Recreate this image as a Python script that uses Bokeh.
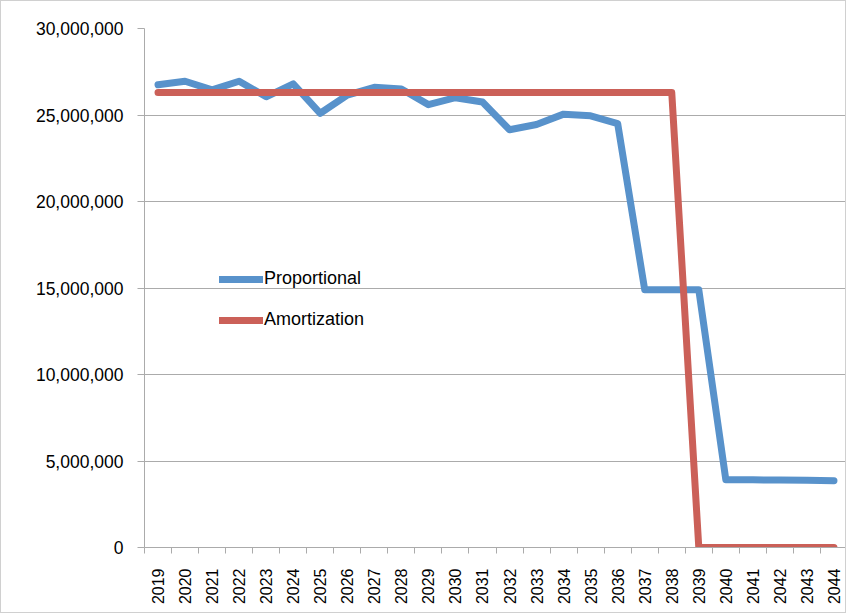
import math
from bokeh.plotting import figure
from bokeh.models import (Range1d, FixedTicker, NumeralTickFormatter, Legend,
                          LegendItem)
from bokeh.embed import file_html
from bokeh.resources import INLINE

# ---- data ----
years = [2019, 2020, 2021, 2022, 2023, 2024, 2025, 2026, 2027, 2028,
         2029, 2030, 2031, 2032, 2033, 2034, 2035, 2036, 2037, 2038,
         2039, 2040, 2041, 2042, 2043, 2044]
proportional = [26750000, 26950000, 26450000, 26950000, 26050000, 26800000,
                25100000, 26150000, 26600000, 26500000, 25600000, 26000000,
                25750000, 24150000, 24450000, 25050000, 24950000, 24500000,
                14900000, 14900000, 14900000, 3920000, 3910000, 3900000,
                3890000, 3860000]
amortization = [26300000] * 20 + [0] * 6
y_ticks = [0, 5000000, 10000000, 15000000, 20000000, 25000000, 30000000]

BLUE = "#5892CB"
RED = "#CB6058"
GRID = "#ababab"
FONT = "Liberation Sans"

p = figure(width=846, height=613, output_backend="svg", toolbar_location=None,
           x_range=Range1d(years[0] - 0.5, years[-1] + 0.5),
           y_range=Range1d(0, 30000000),
           min_border_left=143, min_border_right=0,
           min_border_top=27, min_border_bottom=67)
p.outline_line_color = None
p.background_fill_color = "white"
p.border_fill_color = "white"
p.styles = {"border": "1px solid #d0d0d0", "box-sizing": "border-box"}

r1 = p.line(years, proportional, line_width=7, color=BLUE,
            line_join="round", line_cap="round")
r2 = p.line(years, amortization, line_width=7, color=RED,
            line_join="round", line_cap="round")

# x axis
p.xaxis.ticker = FixedTicker(ticks=years,
                             minor_ticks=[y - 0.5 for y in years] + [years[-1] + 0.5])
p.xaxis.major_tick_line_color = None
p.xaxis.major_tick_out = 0
p.xaxis.major_tick_in = 0
p.xaxis.minor_tick_out = 6
p.xaxis.minor_tick_in = 0
p.xaxis.minor_tick_line_color = GRID
p.xaxis.axis_line_color = GRID
p.xaxis.major_label_orientation = math.pi / 2
p.xaxis.major_label_standoff = 15
p.xaxis.major_label_text_font = FONT
p.xaxis.major_label_text_font_size = "16px"
p.xaxis.major_label_text_color = "#000000"

# y axis
p.yaxis.ticker = FixedTicker(ticks=y_ticks)
p.yaxis.formatter = NumeralTickFormatter(format="0,0")
p.yaxis.major_tick_out = 7
p.yaxis.major_tick_in = 0
p.yaxis.minor_tick_line_color = None
p.yaxis.major_tick_line_color = GRID
p.yaxis.axis_line_color = GRID
p.yaxis.major_label_standoff = 14
p.yaxis.major_label_text_font = FONT
p.yaxis.major_label_text_font_size = "17.5px"
p.yaxis.major_label_text_color = "#000000"

p.xgrid.grid_line_color = None
p.ygrid.grid_line_color = GRID
p.ygrid.grid_line_width = 1

legend = Legend(items=[LegendItem(label="Proportional", renderers=[r1]),
                       LegendItem(label="Amortization", renderers=[r2])],
                location=(75, 217))
legend.glyph_width = 44
legend.glyph_height = 20
legend.label_height = 20
legend.spacing = 20
legend.padding = 0
legend.margin = 0
legend.label_standoff = 1
legend.background_fill_alpha = 0
legend.border_line_color = None
legend.label_text_font = FONT
legend.label_text_font_size = "18px"
legend.label_text_color = "#000000"
p.add_layout(legend)

open("out.html", "w").write(file_html(p, INLINE))
